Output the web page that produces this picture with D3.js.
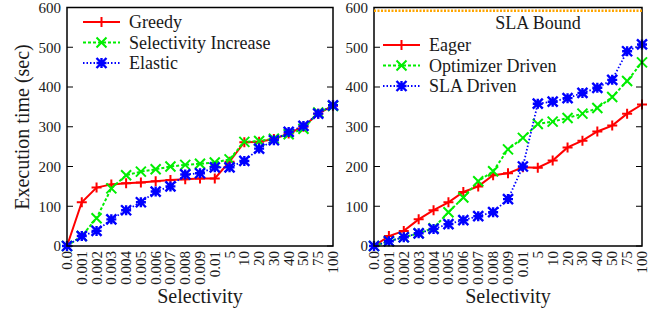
<!DOCTYPE html>
<html>
<head>
<meta charset="utf-8">
<script src="https://cdn.jsdelivr.net/npm/d3@7"></script>
<style>
  body { margin: 0; background: #fff; }
</style>
</head>
<body>
<svg id="chart" width="655" height="309"></svg>
<script>
// Selectivity categories shared by both panels
const selectivity = ["0.0", "0.001", "0.002", "0.003", "0.004", "0.005", "0.006", "0.007",
  "0.008", "0.009", "0.01", "5", "10", "20", "30", "40", "50", "75", "100"];
const yTicks = [0, 100, 200, 300, 400, 500, 600];

// Left panel
const greedy = [0, 110, 147, 155, 158, 160, 163, 166, 168, 170, 170, 212, 261, 262, 269, 283, 300, 333, 353];
const selectivityIncrease = [0, 25, 70, 145, 178, 187, 193, 200, 204, 207, 210, 218, 262, 264, 270, 281, 295, 336, 352];
const elastic = [0, 25, 38, 67, 90, 110, 137, 150, 180, 183, 198, 198, 214, 245, 266, 287, 302, 333, 354];

// Right panel
const eager = [0, 25, 38, 67, 90, 110, 136, 150, 178, 183, 198, 197, 215, 248, 265, 288, 303, 333, 356];
const optimizerDriven = [0, 12, 22, 32, 45, 85, 122, 163, 188, 243, 272, 307, 313, 322, 333, 347, 375, 415, 462];
const slaDriven = [0, 12, 22, 32, 43, 55, 65, 75, 85, 118, 200, 358, 363, 372, 385, 398, 418, 490, 507];
const slaBound = 592;

const FONT = "'Liberation Serif', 'Times New Roman', 'DejaVu Serif', serif";

const svg = d3.select("#chart").attr("font-family", FONT);

const y = d3.scaleLinear().domain([0, 600]).range([246, 7.5]);

function txt(g, size) {
  return g.append("text").attr("font-family", FONT).style("font-family", FONT)
    .attr("fill", "#1a1a1a").style("font-size", size + "px");
}

// --------------------
// Marker shapes
// --------------------
function drawMarker(g, kind, cx, cy, color) {
  const s = 5;
  let d = "";
  if (kind === "plus" || kind === "star") {
    d += `M${cx - s},${cy}L${cx + s},${cy}M${cx},${cy - s}L${cx},${cy + s}`;
  }
  if (kind === "cross" || kind === "star") {
    d += `M${cx - s},${cy - s}L${cx + s},${cy + s}M${cx - s},${cy + s}L${cx + s},${cy - s}`;
  }
  g.append("path").attr("d", d).attr("stroke", color)
    .attr("stroke-width", kind === "star" ? 2.4 : 2).attr("fill", "none");
}

const styles = {
  red: { color: "#ff0000", dash: null, marker: "plus", width: 2 },
  green: { color: "#00ee00", dash: "3,2", marker: "cross", width: 2 },
  blue: { color: "#0000ff", dash: "1.5,2", marker: "star", width: 1.8 }
};

function drawPanel(left, right, series, legendX, legendY0, legendStep) {
  const x = d3.scalePoint().domain(selectivity).range([left, right]);
  const g = svg.append("g");

  // y axis ticks and labels
  yTicks.forEach(t => {
    g.append("line").attr("x1", left).attr("x2", left + 6)
      .attr("y1", y(t)).attr("y2", y(t)).attr("stroke", "#000");
    g.append("line").attr("x1", right).attr("x2", right - 6)
      .attr("y1", y(t)).attr("y2", y(t)).attr("stroke", "#000");
    txt(g, 15).attr("x", left - 6).attr("y", y(t)).attr("dy", "0.35em")
      .attr("text-anchor", "end").text(t);
  });

  // x tick labels, rotated
  selectivity.forEach(c => {
    txt(g, 15)
      .attr("transform", `translate(${x(c)},${251}) rotate(-90)`)
      .attr("dy", "0.33em").attr("text-anchor", "end").text(c);
  });

  txt(g, 20).attr("x", (left + right) / 2).attr("y", 303)
    .attr("text-anchor", "middle").text("Selectivity");

  // series
  const line = d3.line().x((d, i) => x(selectivity[i])).y(d => y(d));
  series.forEach((s, k) => {
    const st = styles[s.style];
    g.append("path").datum(s.values).attr("d", line).attr("fill", "none")
      .attr("stroke", st.color).attr("stroke-width", st.width)
      .attr("stroke-dasharray", st.dash);
    s.values.forEach((v, i) => drawMarker(g, st.marker, x(selectivity[i]), y(v), st.color));

    // legend entry
    const ly = legendY0 + k * legendStep;
    g.append("line").attr("x1", legendX).attr("x2", legendX + 37)
      .attr("y1", ly).attr("y2", ly).attr("stroke", st.color)
      .attr("stroke-width", st.width).attr("stroke-dasharray", st.dash);
    drawMarker(g, st.marker, legendX + 18.5, ly, st.color);
    txt(g, 18).attr("x", legendX + 46).attr("y", ly).attr("dy", "0.35em").text(s.name);
  });

  // frame
  g.append("rect").attr("x", left).attr("y", y(600))
    .attr("width", right - left).attr("height", y(0) - y(600))
    .attr("fill", "none").attr("stroke", "#000").attr("stroke-width", 1.5);

  return { g, x };
}

drawPanel(67, 333, [
  { name: "Greedy", values: greedy, style: "red" },
  { name: "Selectivity Increase", values: selectivityIncrease, style: "green" },
  { name: "Elastic", values: elastic, style: "blue" }
], 83, 22, 20.5);

const rightPanel = drawPanel(374, 642, [
  { name: "Eager", values: eager, style: "red" },
  { name: "Optimizer Driven", values: optimizerDriven, style: "green" },
  { name: "SLA Driven", values: slaDriven, style: "blue" }
], 383, 45, 20.5);

// SLA bound line
rightPanel.g.append("line").attr("x1", 374).attr("x2", 642)
  .attr("y1", y(slaBound)).attr("y2", y(slaBound))
  .attr("stroke", "#ffa500").attr("stroke-width", 2.5).attr("stroke-dasharray", "2,1.5");
txt(rightPanel.g, 18).attr("x", 538).attr("y", 23).attr("dy", "0.35em")
  .attr("text-anchor", "middle").text("SLA Bound");

// y axis title
txt(svg, 20).attr("transform", "translate(22,127) rotate(-90)")
  .attr("dy", "0.35em").attr("text-anchor", "middle").text("Execution time (sec)");
</script>
</body>
</html>
